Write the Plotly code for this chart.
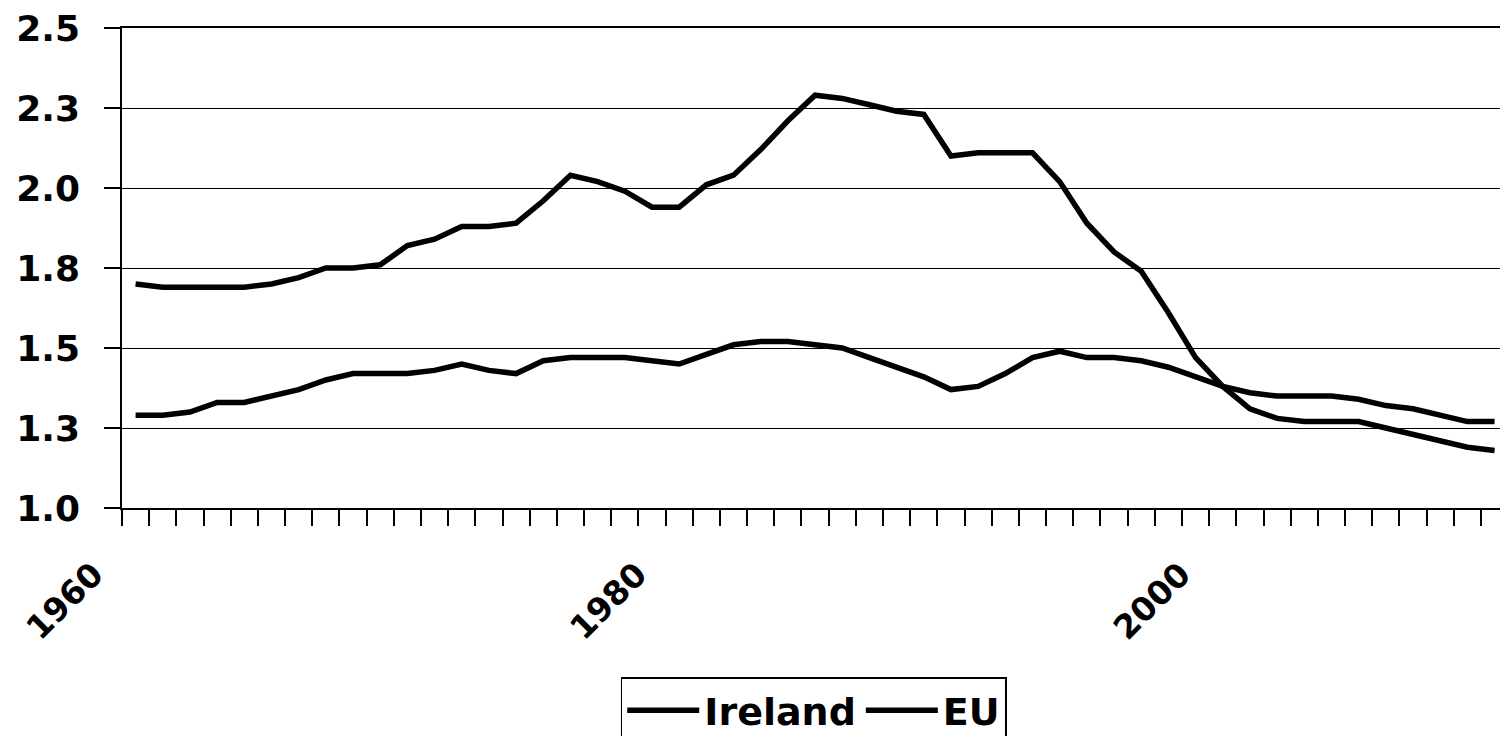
import plotly.graph_objects as go

# years on the category axis
years = list(range(1960, 2011))

ireland = [
    1.70, 1.69, 1.69, 1.69, 1.69, 1.70, 1.72, 1.75, 1.75, 1.76,
    1.82, 1.84, 1.88, 1.88, 1.89, 1.96, 2.04, 2.02, 1.99, 1.94,
    1.94, 2.01, 2.04, 2.12, 2.21, 2.29, 2.28, 2.26, 2.24, 2.23,
    2.10, 2.11, 2.11, 2.11, 2.02, 1.89, 1.80, 1.74, 1.61, 1.47,
    1.38, 1.31, 1.28, 1.27, 1.27, 1.27, 1.25, 1.23, 1.21, 1.19,
    1.18,
]
eu = [
    1.29, 1.29, 1.30, 1.33, 1.33, 1.35, 1.37, 1.40, 1.42, 1.42,
    1.42, 1.43, 1.45, 1.43, 1.42, 1.46, 1.47, 1.47, 1.47, 1.46,
    1.45, 1.48, 1.51, 1.52, 1.52, 1.51, 1.50, 1.47, 1.44, 1.41,
    1.37, 1.38, 1.42, 1.47, 1.49, 1.47, 1.47, 1.46, 1.44, 1.41,
    1.38, 1.36, 1.35, 1.35, 1.35, 1.34, 1.32, 1.31, 1.29, 1.27,
    1.27,
]

y_tickvals = [1.0, 1.25, 1.5, 1.75, 2.0, 2.25, 2.5]
y_ticktext = ["1.0", "1.3", "1.5", "1.8", "2.0", "2.3", "2.5"]
x_tickvals = [1960, 1980, 2000]
x_ticktext = ["1960", "1980", "2000"]

FONT = "DejaVu Sans, Liberation Sans, Arial"

fig = go.Figure()
fig.add_trace(go.Scatter(x=years, y=ireland, name="Ireland", mode="lines",
                         line=dict(color="black", width=5.5)))
fig.add_trace(go.Scatter(x=years, y=eu, name="EU", mode="lines",
                         line=dict(color="black", width=5.5)))

# page body has an 8px margin, so the figure is 16px smaller than the window
fig.update_layout(
    width=1492, height=728,
    margin=dict(l=114, r=0, t=20, b=228, autoexpand=False),
    paper_bgcolor="white", plot_bgcolor="white",
    font=dict(family=FONT, size=36, color="black", weight="bold"),
    showlegend=True,
    legend=dict(
        orientation="h", x=0.502, xanchor="center", y=-0.353, yanchor="top",
        bordercolor="black", borderwidth=1.5, bgcolor="white",
        font=dict(family=FONT, size=38, color="black", weight="bold"),
        itemwidth=72,
    ),
)

# Excel-style category axis: ticks between years, labels rotated
fig.update_xaxes(
    range=[1959.5, 2010.2], automargin=False,
    tickvals=x_tickvals, ticktext=x_ticktext, tickangle=-45,
    tickfont=dict(size=33), ticklabeloverflow="allow",
    ticks="", showgrid=False, zeroline=False,
    showline=True, mirror=True, linecolor="black", linewidth=1.5,
    ticklabelstandoff=32, ticklabelshift=-42,
    minor=dict(tick0=1959.5, dtick=1, ticks="outside", ticklen=16,
               tickcolor="black", tickwidth=1.5, showgrid=False),
)
fig.update_yaxes(
    range=[1.0, 2.5], automargin=False,
    tickvals=y_tickvals, ticktext=y_ticktext, ticklabeloverflow="allow",
    ticks="outside", ticklen=16, tickcolor="black", tickwidth=1.5,
    ticklabelstandoff=17,
    showgrid=True, gridcolor="black", gridwidth=1.2, zeroline=False,
    showline=True, linecolor="black", linewidth=1.5,
)

fig.write_html("out.html")
